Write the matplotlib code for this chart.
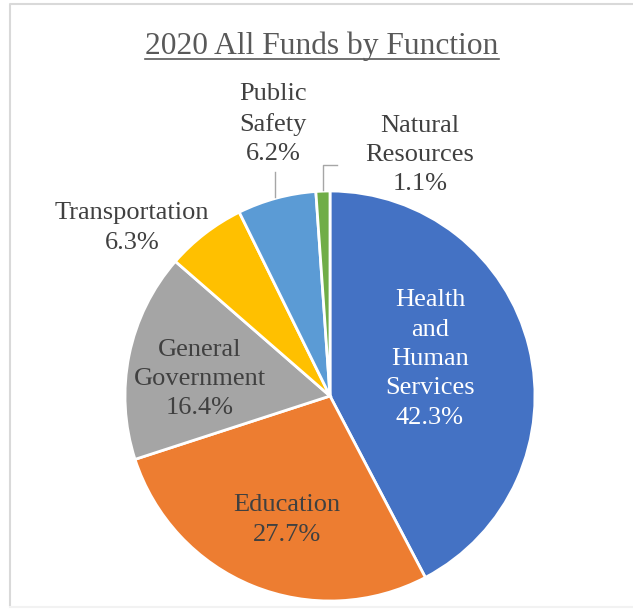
"""
2020 All Funds by Function - pie chart
"""

import matplotlib

matplotlib.use("Agg")
import matplotlib.pyplot as plt  # type: ignore
from matplotlib.lines import Line2D  # type: ignore

plt.rcParams["font.family"] = ["Liberation Serif", "DejaVu Serif"]

# Data
functions = [
    "Health\nand\nHuman\nServices",
    "Education",
    "General\nGovernment",
    "Transportation",
    "Public\nSafety",
    "Natural\nResources",
]
shares = [42.3, 27.7, 16.4, 6.3, 6.2, 1.1]
colors = ["#4472C4", "#ED7D31", "#A5A5A5", "#FFC000", "#5B9BD5", "#70AD47"]

W, H = 633, 609
DPI = 100

# label centres in pixels (x, y from top) and text colours
label_pos = [(430, 359), (287, 520), (200, 379), (132, 228), (273, 124), (420, 155)]
label_col = ["white", "#404040", "#404040", "#404040", "#404040", "#404040"]

cx, cy, r = 330, 396, 205

fig = plt.figure(figsize=(W / DPI, H / DPI), dpi=DPI)

# Chart border
border = "#D9D9D9"
fig.add_artist(Line2D([10 / W, 10 / W, 1.0], [4 / H, 1 - 4 / H, 1 - 4 / H],
                      transform=fig.transFigure, color=border, lw=1.5))
fig.add_artist(Line2D([10 / W, 1.0], [2 / H, 2 / H],
                      transform=fig.transFigure, color="#F2F2F2", lw=1.5))

ax = fig.add_axes([(cx - r) / W, (H - cy - r) / H, 2 * r / W, 2 * r / H])
ax.pie(
    shares,
    colors=colors,
    startangle=90,
    counterclock=False,
    radius=1.0,
    wedgeprops={"edgecolor": "white", "linewidth": 2.0},
)
ax.set_xlim(-1, 1)
ax.set_ylim(-1, 1)
ax.set_aspect("equal")
ax.axis("off")


def to_data(px, py):
    return (px - cx) / r, (cy - py) / r


for name, pct, (px, py), col in zip(functions, shares, label_pos, label_col):
    x, y = to_data(px, py)
    ax.text(x, y, f"{name}\n{pct:.1f}%", ha="center", va="center",
            fontsize=19, color=col, linespacing=1.44, clip_on=False)

# Leader lines
lc = "#A6A6A6"
x1, y1 = to_data(275, 172)
x2, y2 = to_data(275, 197)
ax.plot([x1, x2], [y1, y2], color=lc, lw=1.0, clip_on=False)
p = [to_data(337, 165), to_data(322.7, 165), to_data(322.7, 190)]
ax.plot([q[0] for q in p], [q[1] for q in p], color=lc, lw=1.0, clip_on=False)

# Title with underline
title = fig.text(322 / W, 1 - 46 / H, "2020 All Funds by Function", ha="center",
                 va="center", fontsize=22.7, color="#595959")
fig.canvas.draw()
bb = title.get_window_extent()
uy = 1 - 59 / H
fig.add_artist(Line2D([bb.x0 / W, bb.x1 / W], [uy, uy], transform=fig.transFigure,
                      color="#595959", lw=1.2))

fig.savefig("out.png", dpi=DPI)
